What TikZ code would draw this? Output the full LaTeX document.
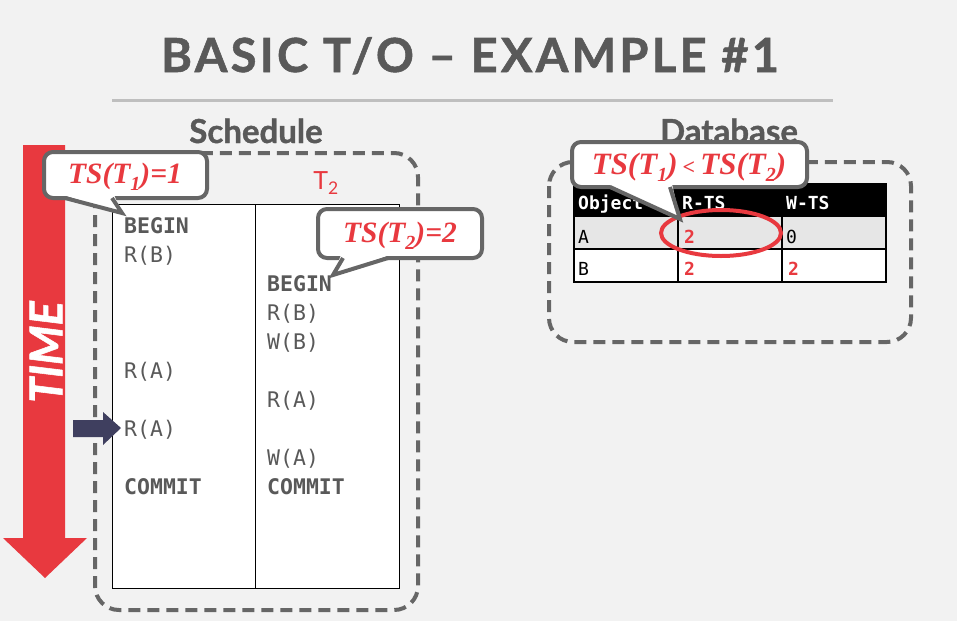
\documentclass[tikz,border=0pt]{standalone}
\usepackage{fontspec}
\setmainfont{Lato}
\newfontfamily\latofont{Lato}
\newfontfamily\latoheavy[FakeBold=1.2]{Lato}
\newfontfamily\monofont{DejaVu Sans Mono}
\newfontfamily\calloutfont{Liberation Serif}
\newcommand{\csub}[1]{\raisebox{-7pt}{\fontsize{20}{20}\selectfont #1}}
\definecolor{bgc}{HTML}{F2F2F2}
\definecolor{txtgray}{HTML}{595959}
\definecolor{dashgray}{HTML}{666666}
\definecolor{redc}{HTML}{E8393F}
\definecolor{navyc}{HTML}{3F3F5F}
\definecolor{rulegray}{HTML}{BFBFBF}
\definecolor{rowgray}{HTML}{E6E6E6}
\tikzset{
  dashbox/.style={draw=dashgray, line width=4pt, dash pattern=on 12pt off 7pt, rounded corners=24pt},
  callbox/.style={draw=dashgray, fill=white, line width=4pt, rounded corners=9pt},
  calltail/.style={draw=dashgray, line width=4pt, line join=miter},
  calltext/.style={inner sep=0pt, anchor=base, text=redc, font=\calloutfont\bfseries\itshape\fontsize{29.5}{32}\selectfont},
  optext/.style={anchor=base west, inner sep=0pt, text=txtgray, font=\monofont\fontsize{21.5}{24}\selectfont},
  opbold/.style={optext, font=\monofont\bfseries\fontsize{21.5}{24}\selectfont},
  dbtext/.style={anchor=base west, inner sep=0pt, font=\monofont\fontsize{18}{20}\selectfont},
  heading/.style={anchor=base, inner sep=0pt, text=txtgray, font=\latoheavy\bfseries\fontsize{33}{36}\selectfont},
}
\begin{document}
\begin{tikzpicture}[x=1pt,y=-1pt]
\fill[bgc] (0,0) rectangle (957,621);
\useasboundingbox (0,0) rectangle (957,621);

% title
\node[anchor=base, inner sep=0pt, text=txtgray, font=\latoheavy\bfseries\fontsize{47}{50}\selectfont\addfontfeatures{LetterSpace=7}] (title) at (470,72) {BASIC T/O – EXAMPLE \#1};
\draw[rulegray, line width=3pt] (112,100) -- (833,100);

% headings
\node[heading] (sched) at (256,143) {Schedule};
\node[heading] (db) at (729,143) {Database};

% schedule box
\draw[dashbox] (95,153) rectangle (418,610);
\draw[fill=white, draw=black, line width=0.8pt] (112,204) rectangle (399,588);
\draw[black, line width=0.8pt] (255,204) -- (255,588);
\node[inner sep=0pt, text=redc, font=\latofont\fontsize{25}{28}\selectfont] (t2) at (326,183) {T\textsubscript{2}};

% operations
\node[opbold] (b1) at (124,233) {BEGIN};
\node[optext] (rb1) at (124,262) {R(B)};
\node[opbold] (b2) at (267,291) {BEGIN};
\node[optext] (rb2) at (267,320) {R(B)};
\node[optext] (wb2) at (267,349) {W(B)};
\node[optext] (ra1) at (124,378) {R(A)};
\node[optext] (ra2) at (267,407) {R(A)};
\node[optext] (ra1b) at (124,436) {R(A)};
\node[optext] (wa2) at (267,465) {W(A)};
\node[opbold] (c1) at (124,494) {COMMIT};
\node[opbold] (c2) at (267,494) {COMMIT};

% TIME arrow
\fill[redc] (23,145) -- (65,145) -- (65,538) -- (87,538) -- (45,578) -- (3,538) -- (23,538) -- cycle;
\node[rotate=90, inner sep=0pt, text=white, font=\latoheavy\bfseries\itshape\fontsize{45}{48}\selectfont] (time) at (46,352) {TIME};

% navy pointer arrow
\fill[navyc] (73,420) -- (103,420) -- (103,412) -- (121,428) -- (103,445) -- (103,437) -- (73,437) -- cycle;

% callout 1
\draw[callbox] (44,152) rectangle (207,198);
\fill[white] (63,195) -- (114,195) -- (122,213) -- cycle;
\draw[calltail] (65,198) -- (122,213) -- (112,198);
\node[calltext] (ts1) at (125,183) {TS(T\csub{1})=1};

% callout 2
\draw[callbox] (318,209) rectangle (482,258);
\fill[white] (341,255) -- (390,255) -- (333,275) -- cycle;
\draw[calltail] (343,258) -- (333,275) -- (388,258);
\node[calltext] (ts2) at (400,242) {TS(T\csub{2})=2};

% database box
\draw[dashbox] (549,162) rectangle (911,342);
\fill[black] (574,184) rectangle (886,217);
\fill[rowgray] (574,217) rectangle (886,249);
\fill[white] (574,249) rectangle (886,282);
\draw[black, line width=1.2pt] (574,184) rectangle (886,282);
\draw[black, line width=1.2pt] (574,249) -- (886,249);
\draw[black, line width=1.2pt] (678,184) -- (678,282);
\draw[black, line width=1.2pt] (782,184) -- (782,282);
\node[dbtext, text=white, font=\monofont\bfseries\fontsize{18}{20}\selectfont] (hobj) at (578,209) {Object};
\node[dbtext, text=white, font=\monofont\bfseries\fontsize{18}{20}\selectfont] (hr) at (682,209) {R-TS};
\node[dbtext, text=white, font=\monofont\bfseries\fontsize{18}{20}\selectfont] (hw) at (786,209) {W-TS};
\node[dbtext] (oa) at (578,243) {A};
\node[dbtext, text=redc, font=\monofont\bfseries\fontsize{18}{20}\selectfont] (ra) at (684,243) {2};
\node[dbtext] (wa) at (786,243) {0};
\node[dbtext] (ob) at (578,275) {B};
\node[dbtext, text=redc, font=\monofont\bfseries\fontsize{18}{20}\selectfont] (rbv) at (684,275) {2};
\node[dbtext, text=redc, font=\monofont\bfseries\fontsize{18}{20}\selectfont] (wbv) at (788,275) {2};

% ellipse
\draw[redc, line width=4pt] (721,233) ellipse [x radius=60pt, y radius=23pt];

% callout 3
\draw[callbox] (572,142) rectangle (807,187);
\fill[white] (608,184) -- (672,184) -- (680,219) -- cycle;
\draw[calltail] (610,187) -- (680,219) -- (670,187);
\node[calltext, font=\calloutfont\bfseries\itshape\fontsize{31}{34}\selectfont] (ts3) at (689,174) {TS(T\csub{1})\,{\fontsize{22}{22}\selectfont <}\,TS(T\csub{2})};
\end{tikzpicture}
\end{document}
